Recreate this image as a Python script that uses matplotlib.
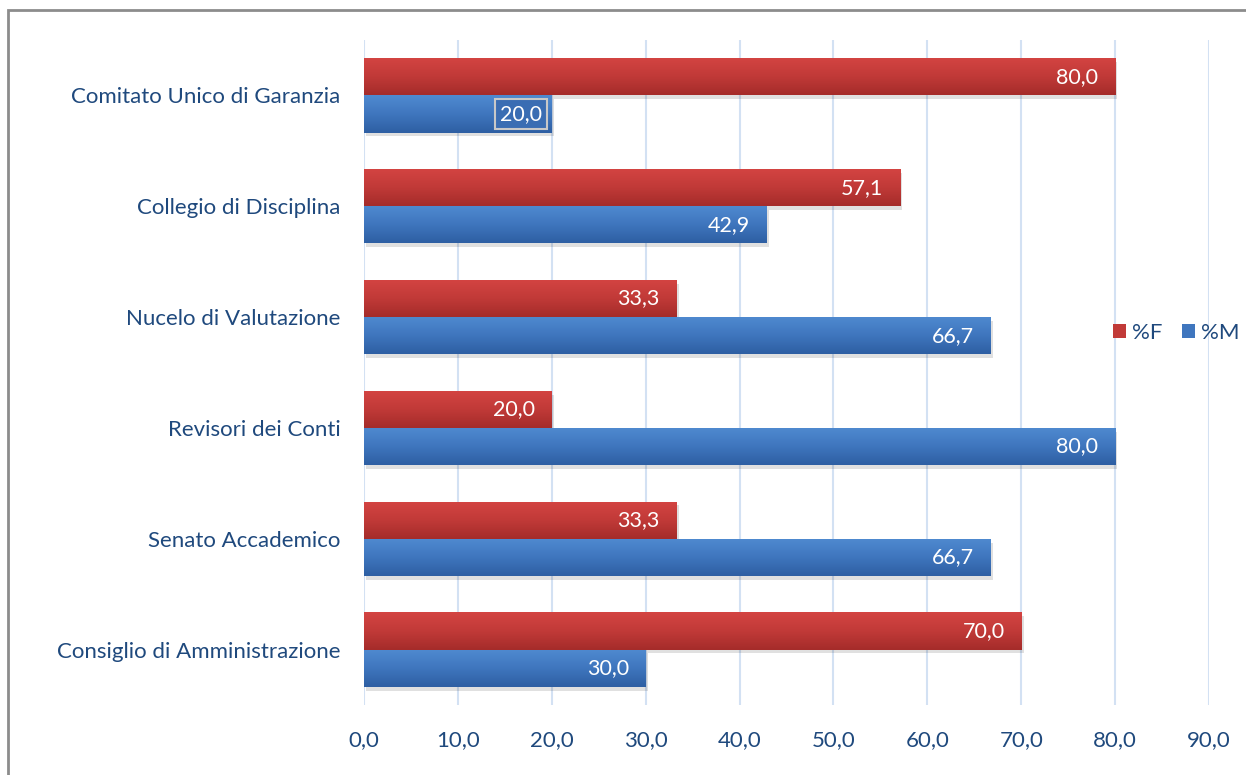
import numpy as np
import matplotlib
matplotlib.use('Agg')
import matplotlib.pyplot as plt
from matplotlib.patches import Rectangle, Patch
from matplotlib.colors import LinearSegmentedColormap

plt.rcParams['font.family'] = ['Lato', 'DejaVu Sans']

# Organi collegiali, dal basso verso l'alto
organi = ['Consiglio di Amministrazione', 'Senato Accademico', 'Revisori dei Conti',
          'Nucelo di Valutazione', 'Collegio di Disciplina', 'Comitato Unico di Garanzia']
perc_f = [70.0, 33.3, 20.0, 33.3, 57.1, 80.0]
perc_m = [30.0, 66.7, 80.0, 66.7, 42.9, 20.0]
x_ticks = [0, 10, 20, 30, 40, 50, 60, 70, 80, 90]

TEXT = '#1F497D'
GRID = '#D3E1F3'
h = 0.335

red_cmap = LinearSegmentedColormap.from_list('r', ['#D44442', '#C13A38', '#A52C2A'])
blue_cmap = LinearSegmentedColormap.from_list('b', ['#4F8AD0', '#3F76BE', '#2E5FA3'])

fig = plt.figure(figsize=(12.46, 7.75), dpi=100)
ax = fig.add_axes([364 / 1246, 1 - 705 / 775, 845 / 1246, 665 / 775])

# cornice esterna
fig.patches.append(Rectangle((8 / 1246, -0.05), 1.1, 1 - 10 / 775 + 0.05,
                             transform=fig.transFigure, fill=False,
                             edgecolor='#8C8C8C', linewidth=2))

y = np.arange(len(organi))
grad = np.linspace(0, 1, 64).reshape(-1, 1)


def draw_bars(vals, offset, cmap):
    bars = ax.barh(y + offset, vals, height=h, color='none', edgecolor='none', zorder=3)
    for b in bars:
        x0, y0 = b.get_x(), b.get_y()
        w, hh = b.get_width(), b.get_height()
        # ombra
        ax.add_patch(Rectangle((x0 + 0.25, y0 - 0.035), w, hh, facecolor='#000000',
                               alpha=0.12, edgecolor='none', zorder=2))
        im = ax.imshow(grad, cmap=cmap, aspect='auto', origin='upper',
                       extent=(x0, x0 + w, y0, y0 + hh), zorder=3)
        im.set_clip_path(b)
    return bars


draw_bars(perc_f, h / 2, red_cmap)
draw_bars(perc_m, -h / 2, blue_cmap)

for i in range(len(organi)):
    ax.annotate(f'{perc_f[i]:.1f}'.replace('.', ','), (perc_f[i], y[i] + h / 2),
                xytext=(-12, 0), textcoords='offset points', ha='right', va='center',
                color='white', fontsize=15.5, zorder=5)
    box = None
    if i == len(organi) - 1:
        box = dict(boxstyle='square,pad=0.25', facecolor='#3A6DB3', edgecolor='#C8C8C8', linewidth=1.5)
    ax.annotate(f'{perc_m[i]:.1f}'.replace('.', ','), (perc_m[i], y[i] - h / 2),
                xytext=(-12 if box is None else -7, 0), textcoords='offset points',
                ha='right', va='center', color='white', fontsize=15.5, zorder=5, bbox=box)

ax.set_xlim(0, 90)
ax.set_ylim(-0.5, len(organi) - 0.5)
ax.set_xticks(x_ticks)
ax.set_xticklabels([f'{v:.1f}'.replace('.', ',') for v in x_ticks], color=TEXT, fontsize=16)
ax.set_yticks(y)
ax.set_yticklabels(organi, color=TEXT, fontsize=16)
ax.tick_params(axis='y', length=0, pad=17)
ax.tick_params(axis='x', length=0, pad=18)
ax.xaxis.grid(True, color=GRID, linewidth=1.5, zorder=0)
ax.set_axisbelow(True)
for s in ax.spines.values():
    s.set_visible(False)

handles = [Patch(facecolor='#C13A38', label='%F'), Patch(facecolor='#3F76BE', label='%M')]
fig.legend(handles=handles, loc='center', bbox_to_anchor=(1176 / 1246, 1 - 333 / 775),
           ncol=2, frameon=False, fontsize=16, handlelength=0.6, handleheight=0.6,
           handletextpad=0.25, columnspacing=0.9, labelcolor=TEXT)

fig.savefig('out.png', dpi=100)
